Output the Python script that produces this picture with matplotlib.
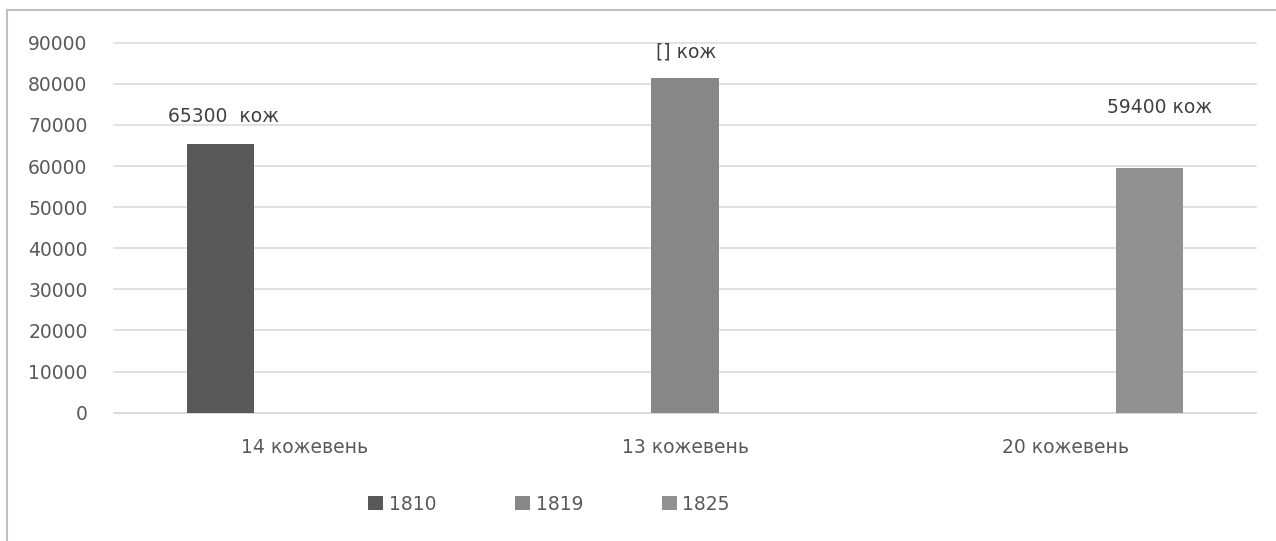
import matplotlib.pyplot as plt
import matplotlib.patches as patches
import numpy as np

# data
categories = ['14 кожевень', '13 кожевень', '20 кожевень']
years = ['1810', '1819', '1825']
values_1810 = [65300, 0, 0]
values_1819 = [0, 81300, 0]
values_1825 = [0, 0, 59400]
bar_labels = ['65300  кож', '[] кож', '59400 кож']
yticks = [0, 10000, 20000, 30000, 40000, 50000, 60000, 70000, 80000, 90000]

colors = ['#595959', '#878787', '#919191']
text_color = '#595959'
grid_color = '#d9d9d9'

plt.rcParams['font.family'] = ['DejaVu Sans']
plt.rcParams['font.size'] = 13.5

fig = plt.figure(figsize=(12.76, 5.41), dpi=100)
ax = fig.add_axes([114 / 1276, 1 - 412.7 / 541, (1256 - 114) / 1276, (412.7 - 42.7) / 541])

x = np.arange(len(categories))
width = 0.177
offset = 0.22
series = [values_1810, values_1819, values_1825]
bars = []
for i, (vals, yr) in enumerate(zip(series, years)):
    b = ax.bar(x + (i - 1) * offset, vals, width, color=colors[i], label=yr, zorder=3)
    bars.append(b)

# data labels, one per category (only the non-zero bar of each)
label_offsets = [(2, 20), (1, 19), (7, 44)]
for i, txt in enumerate(bar_labels):
    rect = bars[i][i]
    ax.annotate(txt, (rect.get_x() + rect.get_width() / 2, rect.get_height()),
                xytext=label_offsets[i], textcoords='offset points',
                ha='center', va='center', color='#404040', fontsize=13.5)

ax.set_xlim(-0.5, 2.5)
ax.set_ylim(0, 90000)
ax.set_yticks(yticks)
ax.set_yticklabels([str(v) for v in yticks])
ax.set_xticks(x)
ax.set_xticklabels(categories)
ax.tick_params(axis='y', length=0, pad=19, colors=text_color)
ax.tick_params(axis='x', length=0, pad=18, colors=text_color)
ax.yaxis.grid(True, color=grid_color, linewidth=1.1, zorder=0)
for gl in ax.get_ygridlines():
    gl.set_clip_on(False)
ax.set_axisbelow(True)
for s in ['top', 'right', 'left']:
    ax.spines[s].set_visible(False)
ax.spines['bottom'].set_color(grid_color)
ax.spines['bottom'].set_linewidth(1.1)

# legend below the plot
fig.legend(loc='center left', bbox_to_anchor=(368 / 1276, 1 - 504 / 541),
           ncol=3, frameon=False, borderpad=0, borderaxespad=0,
           handlelength=0.8, handleheight=0.8, handletextpad=0.3,
           columnspacing=4.2, labelcolor=text_color, fontsize=13.5)

# outer chart frame
frame = patches.Rectangle((7 / 1276, -0.1), 1.2, 1.1 - 10 / 541,
                          transform=fig.transFigure, fill=False,
                          edgecolor='#bfbfbf', linewidth=1.5, clip_on=False)
fig.patches.append(frame)

fig.savefig('out.png', dpi=100)
